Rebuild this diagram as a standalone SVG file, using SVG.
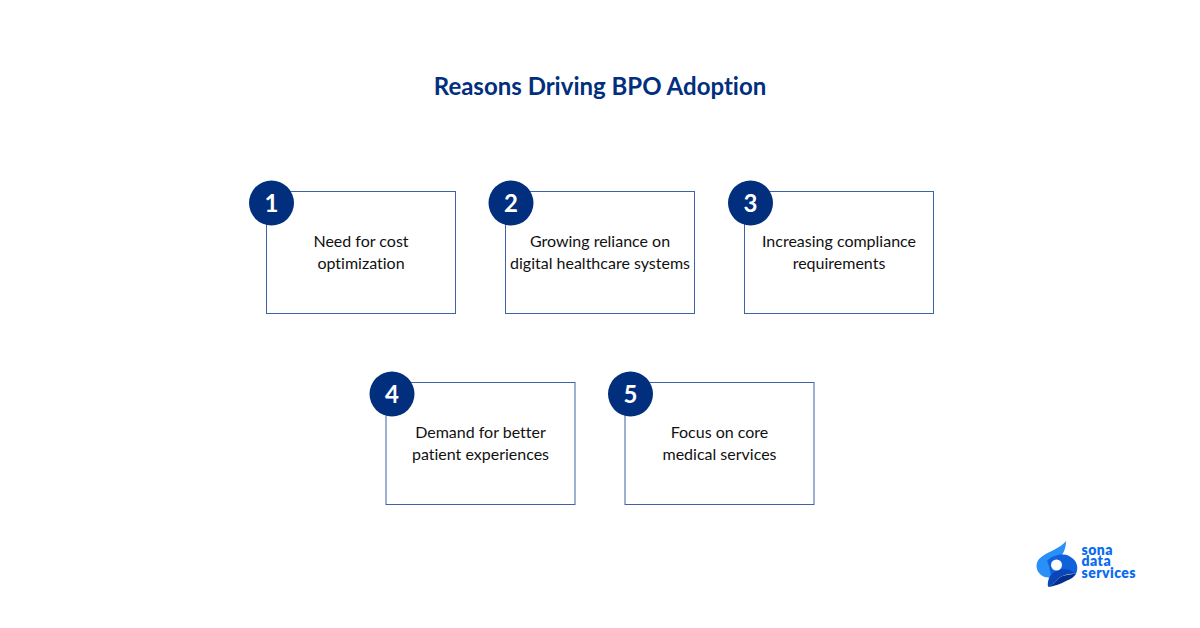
<svg xmlns="http://www.w3.org/2000/svg" width="1200" height="628" viewBox="0 0 1200 628">
<style>
text{font-family:Lato,"Liberation Sans",sans-serif;font-variant-ligatures:none}
.box{fill:#fff;stroke:#3f63a6;stroke-width:1}
.c{fill:#012f7d}
.n{fill:#fff;font-size:24px;font-weight:700;text-anchor:middle}
.t{fill:#111;font-size:16px;text-anchor:middle}
.l{fill:#0b6cf0;font-size:14px;font-weight:800;letter-spacing:.45px}
</style>
<rect width="1200" height="628" fill="#fff"/>
<text x="600" y="95" text-anchor="middle" font-size="24" font-weight="700" fill="#012f7d">Reasons Driving BPO Adoption</text>
<g id="node1"><rect class="box" x="266.500" y="191.500" width="189" height="122"/><circle class="c" cx="271.500" cy="203" r="22.500"/><text class="n" x="271.500" y="212">1</text><text class="t" x="361" y="247">Need for cost</text><text class="t" x="361" y="269">optimization</text></g>
<g id="node2"><rect class="box" x="505.500" y="191.500" width="189" height="122"/><circle class="c" cx="511" cy="203" r="22.500"/><text class="n" x="511" y="212">2</text><text class="t" x="600" y="247">Growing reliance on</text><text class="t" x="600" y="269">digital healthcare systems</text></g>
<g id="node3"><rect class="box" x="744.500" y="191.500" width="189" height="122"/><circle class="c" cx="750.500" cy="203" r="22.500"/><text class="n" x="750.500" y="212">3</text><text class="t" x="839" y="247">Increasing compliance</text><text class="t" x="839" y="269">requirements</text></g>
<g id="node4"><rect class="box" x="386" y="382.500" width="189" height="122"/><circle class="c" cx="392" cy="394" r="22.500"/><text class="n" x="392" y="403">4</text><text class="t" x="480.500" y="438">Demand for better</text><text class="t" x="480.500" y="460">patient experiences</text></g>
<g id="node5"><rect class="box" x="625" y="382.500" width="189" height="122"/><circle class="c" cx="630.500" cy="394" r="22.500"/><text class="n" x="630.500" y="403">5</text><text class="t" x="719.500" y="438">Focus on core</text><text class="t" x="719.500" y="460">medical services</text></g>
<g id="connectors"/>
<g id="logo">
<path d="M1066 541C1060 549 1046 552 1039 559C1035 564 1036 571 1041 575C1045 578 1050 578 1053 578L1058 566L1062 555C1065 550 1066 546 1066 541Z" fill="#2a8ff7"/>
<path d="M1047 561C1052 555 1063 553 1069 556C1077 560 1079 567 1076 574C1070 570 1062 569 1056 572L1051 576L1049 566Z" fill="#0f62dc"/>
<path d="M1048 587C1047 580 1050 574 1056 571C1063 568 1071 569 1076 574C1070 573 1063 575 1059 578C1056 582 1052 585 1048 587Z" fill="#0a46b8"/>
<path d="M1048 587C1055 586 1061 584 1066 581C1071 579 1074 577 1076 574C1070 574 1063 575 1059 578C1056 582 1052 585 1048 587Z" fill="#012f8f"/>
<circle cx="1056.500" cy="565" r="5.500" fill="#fff"/>
<text class="l" x="1081.500" y="555">sona</text><text class="l" x="1081.500" y="566">data</text><text class="l" x="1081.500" y="577.500">services</text>
</g>
</svg>
